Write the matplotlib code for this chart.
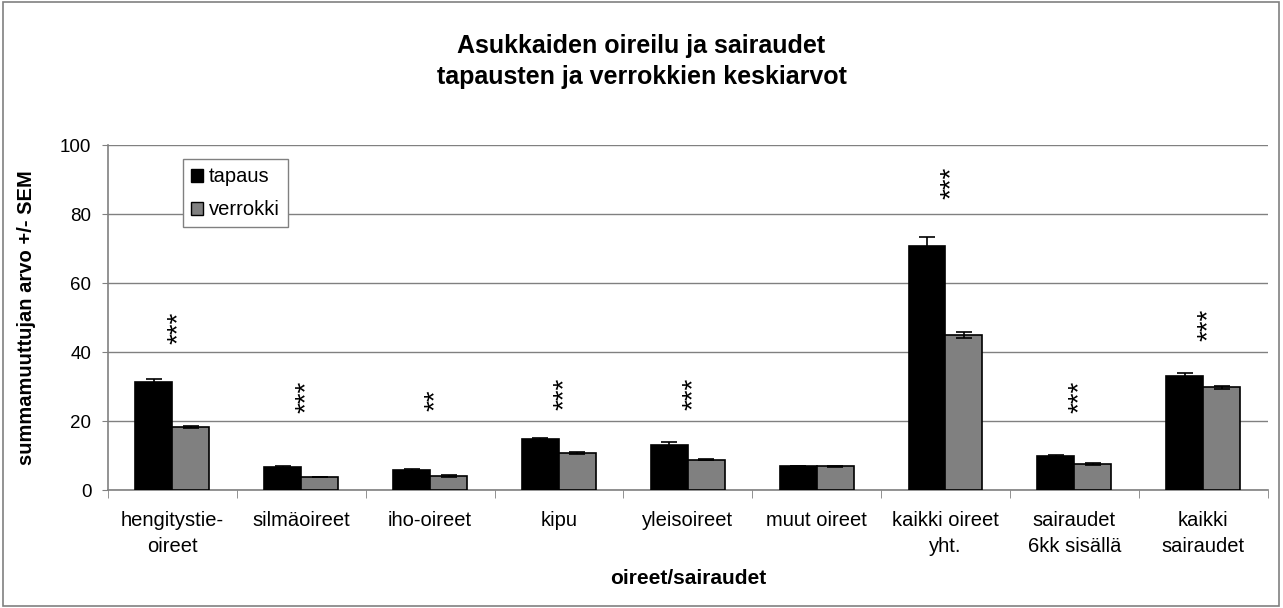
import numpy as np
import matplotlib
matplotlib.use('Agg')
import matplotlib.pyplot as plt
from matplotlib.patches import Patch, Rectangle

plt.rcParams['font.family'] = ['Liberation Sans', 'DejaVu Sans']

categories = ['hengitystie-\noireet', 'silmäoireet', 'iho-oireet', 'kipu', 'yleisoireet',
              'muut oireet', 'kaikki oireet\nyht.', 'sairaudet\n6kk sisällä', 'kaikki\nsairaudet']
tapaus = [31.3, 6.7, 5.8, 14.7, 13.1, 7.0, 70.7, 9.9, 33.0]
tapaus_sem = [0.9, 0.4, 0.3, 0.4, 0.9, 0.1, 2.7, 0.4, 0.9]
verrokki = [18.3, 3.8, 4.2, 10.7, 8.8, 6.9, 45.0, 7.5, 29.8]
verrokki_sem = [0.4, 0.1, 0.3, 0.2, 0.2, 0.1, 0.8, 0.3, 0.4]
stars = ['***', '***', '**', '***', '***', '', '***', '***', '***']
star_y = [47, 27, 26, 28, 28, 0, 89, 27, 48]

fig = plt.figure(figsize=(12.83, 6.08), dpi=100)
ax = fig.add_axes([0.0842, 0.194, 0.9038, 0.5675])

x = np.arange(len(categories))
w = 0.287
err_kw = dict(ecolor='black', elinewidth=1.2, capsize=6, capthick=1.2)
ax.bar(x - w / 2, tapaus, w, color='black', edgecolor='black', linewidth=1.2,
       yerr=tapaus_sem, error_kw=err_kw, zorder=3)
ax.bar(x + w / 2, verrokki, w, color='#808080', edgecolor='black', linewidth=1.2,
       yerr=verrokki_sem, error_kw=err_kw, zorder=3)

for xi, s, yy in zip(x, stars, star_y):
    if s:
        ax.text(xi + 0.045, yy, s, rotation=90, ha='center', va='center', fontsize=20, zorder=4)

ax.set_xlim(-0.5, len(categories) - 0.5)
ax.set_ylim(0, 100)
ax.set_yticks([0, 20, 40, 60, 80, 100])
ax.set_xticks(x)
ax.set_xticklabels(categories, fontsize=14.5, linespacing=1.45)
ax.set_xticks(np.arange(len(categories) + 1) - 0.5, minor=True)
ax.tick_params(axis='x', which='major', length=0, pad=15)
ax.tick_params(axis='x', which='minor', length=6, color='#808080')
ax.tick_params(axis='y', labelsize=13.5, length=4.5, color='#808080', pad=7.5)
ax.yaxis.grid(True, color='#808080', linewidth=1)
ax.set_axisbelow(True)
for side in ['top', 'right']:
    ax.spines[side].set_visible(False)
for side in ['left', 'bottom']:
    ax.spines[side].set_color('#808080')
    ax.spines[side].set_linewidth(1.2)

ax.set_ylabel('summamuuttujan arvo +/- SEM', fontsize=14.5, fontweight='bold')
ax.yaxis.set_label_coords(-0.062, 0.5)
ax.set_xlabel('oireet/sairaudet', fontsize=15, fontweight='bold')
ax.xaxis.set_label_coords(0.5, -0.228)

fig.text(0.5, 0.925, 'Asukkaiden oireilu ja sairaudet', ha='center', va='center',
         fontsize=18, fontweight='bold')
fig.text(0.5, 0.873, 'tapausten ja verrokkien keskiarvot', ha='center', va='center',
         fontsize=18, fontweight='bold')

handles = [Patch(facecolor='black', edgecolor='black', label='tapaus'),
           Patch(facecolor='#808080', edgecolor='black', label='verrokki')]
leg = ax.legend(handles=handles, loc='upper left', bbox_to_anchor=(0.0647, 0.959),
                borderaxespad=0, fontsize=14.5, handlelength=0.6, handleheight=0.6,
                handletextpad=0.3, labelspacing=0.7, borderpad=0.4, fancybox=False,
                framealpha=1)
leg.get_frame().set_edgecolor('#808080')
leg.get_frame().set_linewidth(1)

fig.patches.append(Rectangle((0.002, 0.003), 0.995, 0.994, transform=fig.transFigure,
                             fill=False, edgecolor='#808080', linewidth=1.2))

fig.savefig('out.png', dpi=100)
